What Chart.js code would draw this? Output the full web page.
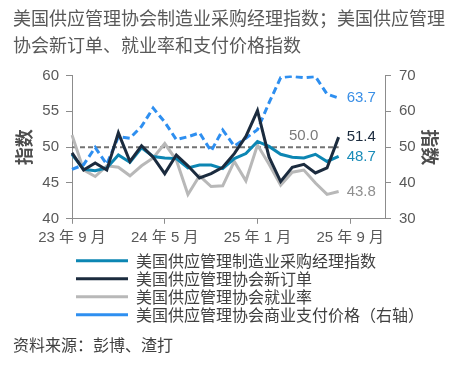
<!DOCTYPE html>
<html>
<head>
<meta charset="utf-8">
<script src="https://cdn.jsdelivr.net/npm/chart.js@4.4.1/dist/chart.umd.min.js"></script>
<style>
html,body{margin:0;padding:0;background:#ffffff;}
#wrap{width:455px;height:366px;}
</style>
</head>
<body>
<div id="wrap"><canvas id="c" width="455" height="366"></canvas></div>
<script>
// ---- data ----
const months = [
  '23 年 9 月','23 年 10 月','23 年 11 月','23 年 12 月',
  '24 年 1 月','24 年 2 月','24 年 3 月','24 年 4 月','24 年 5 月','24 年 6 月',
  '24 年 7 月','24 年 8 月','24 年 9 月','24 年 10 月','24 年 11 月','24 年 12 月',
  '25 年 1 月','25 年 2 月','25 年 3 月','25 年 4 月','25 年 5 月','25 年 6 月',
  '25 年 7 月','25 年 8 月','25 年 9 月','25 年 10 月','25 年 11 月','25 年 12 月'
];
const shownTicks = ['23 年 9 月','24 年 5 月','25 年 1 月','25 年 9 月'];

const pmi        = [49.0, 46.9, 46.7, 47.1, 48.9, 47.9, 49.9, 48.7, 48.5, 48.4, 47.1, 47.5, 47.5, 47.0, 48.4, 49.1, 50.8, 50.1, 49.0, 48.6, 48.5, 49.0, 48.0, 48.7];
const newOrders  = [49.2, 46.8, 47.8, 46.8, 52.0, 48.0, 50.2, 48.6, 46.3, 48.9, 47.4, 45.7, 46.3, 47.2, 49.1, 51.5, 55.1, 48.6, 45.2, 47.2, 47.6, 46.4, 47.1, 51.4];
const employment = [51.7, 46.8, 45.9, 47.4, 47.2, 46.0, 47.4, 48.5, 50.5, 48.2, 43.4, 46.0, 44.5, 44.6, 48.0, 45.3, 50.3, 47.6, 44.7, 46.5, 46.8, 45.0, 43.4, 43.8];
const prices     = [43.8, 45.1, 49.9, 45.2, 52.9, 52.5, 55.8, 60.9, 57.0, 52.1, 52.9, 54.0, 48.9, 54.8, 50.3, 52.5, 54.9, 62.4, 69.4, 69.8, 69.4, 69.7, 64.8, 63.7];
const refLevel   = 50;
const refStart   = '23 年 9 月';
const refEnd     = '25 年 8 月';

const seriesNames = [
  '美国供应管理制造业采购经理指数',
  '美国供应管理协会新订单',
  '美国供应管理协会就业率',
  '美国供应管理协会商业支付价格（右轴）'
];

const numFont = "'Liberation Sans', 'Noto Sans CJK SC', sans-serif";
const cjkFont = "'Noto Sans CJK SC', 'Liberation Sans', sans-serif";

const C_TEAL = '#0c86b3';
const C_DARK = '#1b2b3e';
const C_GRAY = '#b8b8b8';
const C_BLUE = '#2e8ff0';
const C_REF  = '#737373';
const C_AXIS = '#8c8c8c';

// ---- plugins ----
const layoutTweak = {
  id: 'layoutTweak',
  afterLayout(chart) {
    chart.legend.left = 74;
  }
};

const endLabels = {
  id: 'endLabels',
  afterDatasetsDraw(chart) {
    const ctx = chart.ctx;
    ctx.save();
    ctx.font = '15px ' + numFont;
    ctx.textBaseline = 'middle';
    chart.data.datasets.forEach((ds, i) => {
      const meta = chart.getDatasetMeta(i);
      if (!meta.data.length) return;
      const last = meta.data[meta.data.length - 1];
      if (ds.isRef) {
        ctx.fillStyle = ds.labelColor;
        ctx.textAlign = 'center';
        ctx.fillText(refLevel.toFixed(1), last.x - 35, last.y - 11);
      } else {
        const v = ds.data[ds.data.length - 1];
        ctx.fillStyle = ds.labelColor;
        ctx.textAlign = 'left';
        ctx.fillText(v.toFixed(1), last.x + 8, last.y);
      }
    });
    ctx.restore();
  }
};

// ---- chart ----
new Chart(document.getElementById('c'), {
  type: 'line',
  data: {
    labels: months,
    datasets: [
      { label: seriesNames[0], data: pmi, yAxisID: 'y', borderColor: C_TEAL, backgroundColor: C_TEAL,
        borderWidth: 3, pointRadius: 0, tension: 0, labelColor: '#1a8cb8', order: 2 },
      { label: seriesNames[1], data: newOrders, yAxisID: 'y', borderColor: C_DARK, backgroundColor: C_DARK,
        borderWidth: 3, pointRadius: 0, tension: 0, labelColor: '#1b2b3e', order: 1 },
      { label: seriesNames[2], data: employment, yAxisID: 'y', borderColor: C_GRAY, backgroundColor: C_GRAY,
        borderWidth: 3, pointRadius: 0, tension: 0, labelColor: '#8f8f8f', order: 4 },
      { label: seriesNames[3], data: prices, yAxisID: 'y2', borderColor: C_BLUE, backgroundColor: C_BLUE,
        borderWidth: 3, borderDash: [7, 4], pointRadius: 0, tension: 0, labelColor: '#3a8fe6', order: 3 },
      { label: 'ref', data: [{x: refStart, y: refLevel}, {x: refEnd, y: refLevel}], yAxisID: 'y',
        borderColor: C_REF, borderWidth: 2, borderDash: [5, 3], pointRadius: 0, isRef: true,
        labelColor: '#7a7a7a', order: 5 }
    ]
  },
  options: {
    responsive: false,
    animation: false,
    devicePixelRatio: 1,
    layout: { padding: { left: 13, right: 0, top: 0, bottom: 0 } },
    plugins: {
      title: {
        display: true,
        align: 'start',
        text: ['美国供应管理协会制造业采购经理指数；美国供应管理', '协会新订单、就业率和支付价格指数'],
        color: '#595959',
        font: { family: cjkFont, size: 18, weight: 'normal', lineHeight: 1.5 },
        padding: { top: 4.5, bottom: 17 }
      },
      subtitle: {
        display: true,
        position: 'bottom',
        align: 'start',
        text: '资料来源：彭博、渣打',
        color: '#404040',
        font: { family: cjkFont, size: 16, weight: 'normal', lineHeight: 1.2 },
        padding: { top: 3, bottom: 11 }
      },
      legend: {
        display: true,
        position: 'bottom',
        align: 'start',
        labels: {
          usePointStyle: true,
          pointStyle: 'line',
          pointStyleWidth: 52,
          boxHeight: 16,
          padding: 2,
          color: '#404040',
          font: { family: cjkFont, size: 16 },
          filter: (item) => item.datasetIndex < 4,
          sort: (a, b) => a.datasetIndex - b.datasetIndex
        }
      },
      tooltip: { enabled: false }
    },
    scales: {
      x: {
        type: 'category',
        offset: false,
        grid: { display: true, drawOnChartArea: false, drawTicks: true, tickLength: 5, color: C_AXIS },
        border: { display: true, color: C_AXIS, width: 1 },
        ticks: {
          autoSkip: false, maxRotation: 0, minRotation: 0, padding: 5,
          color: '#595959', font: { family: numFont, size: 15 },
          callback: function(value) {
            const lbl = this.getLabelForValue(value);
            return shownTicks.includes(lbl) ? lbl : null;
          }
        },
        afterFit: (scale) => { scale.height = 32; }
      },
      y: {
        position: 'left',
        min: 40, max: 60,
        grid: { display: true, drawOnChartArea: false, drawTicks: true, tickLength: 6, color: C_AXIS },
        border: { display: true, color: C_AXIS, width: 1 },
        ticks: { stepSize: 5, padding: 7, color: '#595959', font: { family: numFont, size: 15 } },
        title: { display: true, text: '指数', color: '#4d4d4d',
                 font: { family: cjkFont, size: 18, weight: 'bold', lineHeight: 1.2 }, padding: { top: 0, bottom: 0 } },
        afterFit: (scale) => { scale.width = 59; }
      },
      y2: {
        position: 'right',
        min: 30, max: 70,
        grid: { display: true, drawOnChartArea: false, drawTicks: true, tickLength: 6, color: C_AXIS },
        border: { display: true, color: C_AXIS, width: 1 },
        ticks: { stepSize: 10, padding: 8, color: '#595959', font: { family: numFont, size: 15 } },
        title: { display: true, text: '指数', color: '#4d4d4d',
                 font: { family: cjkFont, size: 18, weight: 'bold', lineHeight: 1.2 }, padding: { top: 14, bottom: 0 } },
        afterFit: (scale) => { scale.width = 70; }
      }
    }
  },
  plugins: [layoutTweak, endLabels]
});
</script>
</body>
</html>
